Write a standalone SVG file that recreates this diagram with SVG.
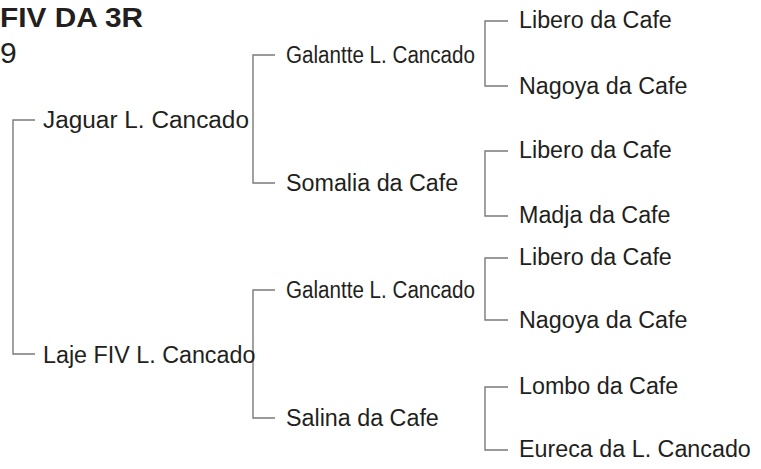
<svg xmlns="http://www.w3.org/2000/svg" width="761" height="469" viewBox="0 0 761 469">
<style>
  text { font-family: "Liberation Sans", Arial, sans-serif; font-size: 23.3px; fill: #231f20; }
  .title { font-weight: bold; font-size: 28px; }
  .conn path { fill: none; stroke: #7a7a7a; stroke-width: 1.4; }
</style>
<rect width="761" height="469" fill="#ffffff"/>
<text class="title" x="0" y="27" textLength="143" lengthAdjust="spacingAndGlyphs">FIV DA 3R</text>
<text x="0" y="63" style="font-size:30px">9</text>
<g class="conn" id="connectors">
  <path d="M35,120 H13 V354 H35"/>
  <path d="M275,55 H253 V183 H275"/>
  <path d="M275,290 H253 V418 H275"/>
  <path d="M508,21 H485 V86 H508"/>
  <path d="M508,151 H485 V216 H508"/>
  <path d="M508,258 H485 V320 H508"/>
  <path d="M508,387 H485 V450 H508"/>
</g>
<g id="n-jaguar"><text x="43" y="128" textLength="206" lengthAdjust="spacingAndGlyphs">Jaguar L. Cancado</text></g>
<g id="n-laje"><text x="43" y="363">Laje FIV L. Cancado</text></g>
<g id="n-galantte1"><text x="286" y="63" textLength="189" lengthAdjust="spacingAndGlyphs">Galantte L. Cancado</text></g>
<g id="n-somalia"><text x="286" y="191">Somalia da Cafe</text></g>
<g id="n-galantte2"><text x="286" y="298" textLength="189" lengthAdjust="spacingAndGlyphs">Galantte L. Cancado</text></g>
<g id="n-salina"><text x="286" y="426">Salina da Cafe</text></g>
<g id="n-libero1"><text x="519" y="28">Libero da Cafe</text></g>
<g id="n-nagoya1"><text x="519" y="94">Nagoya da Cafe</text></g>
<g id="n-libero2"><text x="519" y="158">Libero da Cafe</text></g>
<g id="n-madja"><text x="519" y="223">Madja da Cafe</text></g>
<g id="n-libero3"><text x="519" y="265">Libero da Cafe</text></g>
<g id="n-nagoya2"><text x="519" y="328">Nagoya da Cafe</text></g>
<g id="n-lombo"><text x="519" y="394">Lombo da Cafe</text></g>
<g id="n-eureca"><text x="519" y="457">Eureca da L. Cancado</text></g>
</svg>
